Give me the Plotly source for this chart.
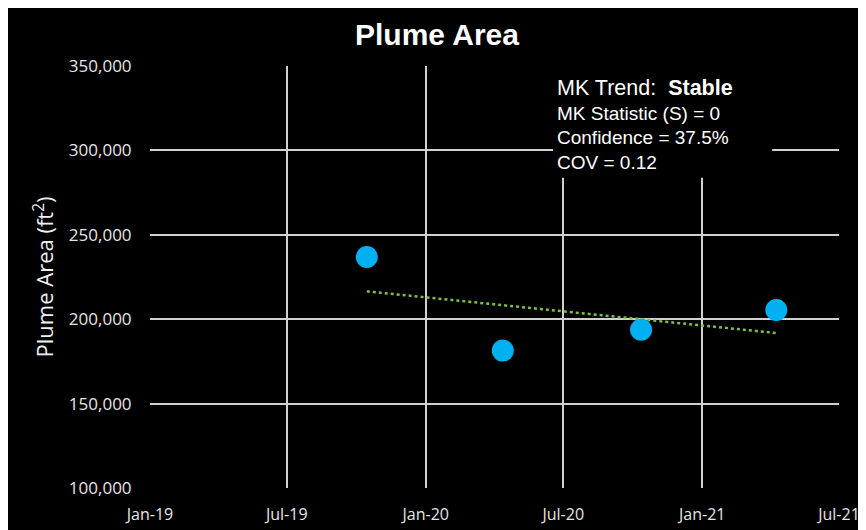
import plotly.graph_objects as go

# sampling dates and plume areas
sample_dates = ['2019-10-15', '2020-04-12', '2020-10-12', '2021-04-09']
plume_area = [236800, 181400, 193700, 205400]

# linear trend line, first and last sample
trend_dates = ['2019-10-15', '2021-04-09']
trend_area = [216500, 191800]

x_ticks = ['2019-01-01', '2019-07-01', '2020-01-01', '2020-07-01', '2021-01-01', '2021-07-01']
x_tick_labels = ['Jan-19', 'Jul-19', 'Jan-20', 'Jul-20', 'Jan-21', 'Jul-21']
y_ticks = [100000, 150000, 200000, 250000, 300000, 350000]

stats_text = ('<span style="font-size:21.5px">MK Trend:  <b>Stable</b></span><br>'
              'MK Statistic (S) = 0<br>'
              'Confidence = 37.5%<br>'
              'COV = 0.12')

fig = go.Figure()
fig.add_trace(go.Scatter(x=trend_dates, y=trend_area, mode='lines',
                         line=dict(color='#7CBF45', width=2.5, dash='dot'),
                         hoverinfo='skip'))
fig.add_trace(go.Scatter(x=sample_dates, y=plume_area, mode='markers',
                         marker=dict(color='#00B0F0', size=22)))

tick_font = dict(family='Open Sans', size=17, color='#E6E6E6')

fig.update_xaxes(range=[x_ticks[0], x_ticks[-1]], tickvals=x_ticks, ticktext=x_tick_labels,
                 showgrid=True, gridcolor='#D0D0D0', gridwidth=1.5, zeroline=False,
                 showline=True, mirror=True, linecolor='black', linewidth=2,
                 tickfont=dict(family='Open Sans', size=16, color='#E6E6E6'),
                 ticklabelstandoff=11, ticklabeloverflow='allow', automargin=False)
fig.update_yaxes(range=[y_ticks[0], y_ticks[-1]], tickvals=y_ticks, tickformat=',',
                 showgrid=True, gridcolor='#D0D0D0', gridwidth=1.5, zeroline=False,
                 showline=True, mirror=True, linecolor='black', linewidth=2,
                 tickfont=tick_font, ticklabelstandoff=13, automargin=False,
                 title=dict(text='Plume Area (ft<sup>2</sup>)', standoff=9,
                            font=dict(family='Open Sans', size=22, color='#F0F0F0')))

# black box behind the trend statistics
fig.add_shape(type='rect', xref='paper', yref='paper', x0=0.585, x1=0.903, y0=0.735, y1=1.0,
              fillcolor='black', line=dict(width=0), layer='above')
fig.add_annotation(text=stats_text, xref='paper', yref='paper', x=0.588, y=0.982,
                   xanchor='left', yanchor='top', align='left', showarrow=False,
                   font=dict(family='Liberation Sans', size=19, color='white'))

# page body adds an 8px offset, so the figure is sized to end at the 866x530 window edge
fig.update_layout(
    width=858, height=522,
    margin=dict(l=142, r=27, t=58, b=42),
    paper_bgcolor='black', plot_bgcolor='black',
    showlegend=False,
    title=dict(text='<b>Plume Area</b>', x=0.5, xanchor='center', y=0.95, yanchor='middle',
               font=dict(family='Liberation Sans', size=30, color='white')),
)

fig.write_html('out.html')
